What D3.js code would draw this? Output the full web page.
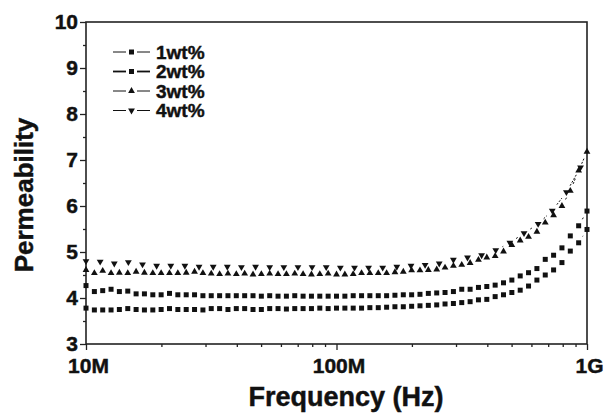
<!DOCTYPE html>
<html>
<head>
<meta charset="utf-8">
<script src="https://cdn.jsdelivr.net/npm/d3@7"></script>
<style>
    body { margin: 0; background: #fff; }
    text { font-family: "Liberation Sans", Arial, sans-serif; font-weight: bold; fill: #111; stroke: #111; stroke-width: 0.45px; }
</style>
</head>
<body>
<div id="chart"></div>
<script>
(function () {
    'use strict';

    // frequency sweeps, MHz
    var freqA = [10, 10.8, 11.66, 12.59, 13.59, 14.68, 15.85, 17.11, 18.48, 19.95,
        21.54, 23.26, 25.12, 27.12, 29.29, 31.62, 34.15, 36.87, 39.81, 42.99,
        46.42, 50.12, 54.12, 58.43, 63.1, 68.13, 73.56, 79.43, 85.77, 92.61,
        100, 108, 116.6, 125.9, 135.9, 146.8, 158.5, 171.1, 184.8, 199.5,
        215.4, 232.6, 251.2, 271.2, 292.9, 316.2, 341.5, 368.7, 398.1, 429.9,
        464.2, 501.2, 541.2, 584.3, 631, 681.3, 735.6, 794.3, 857.7, 926.1, 1000];

    var freqB = [10, 11.39, 12.97, 14.76, 16.81, 19.14, 21.8, 24.82, 28.27, 32.19,
        36.65, 41.73, 47.52, 54.11, 61.62, 70.16, 79.89, 90.97, 103.6, 118,
        134.3, 152.9, 174.1, 198.3, 225.8, 257.1, 292.8, 333.4, 379.6, 432.3,
        492.2, 560.5, 638.2, 726.7, 827.5, 942.3];

    var wt1 = [3.78, 3.74, 3.74, 3.74, 3.75, 3.77, 3.75, 3.74, 3.74, 3.75,
        3.77, 3.75, 3.75, 3.75, 3.74, 3.77, 3.77, 3.75, 3.77, 3.77,
        3.75, 3.75, 3.77, 3.77, 3.76, 3.77, 3.77, 3.77, 3.78, 3.77,
        3.78, 3.78, 3.78, 3.78, 3.79, 3.79, 3.80, 3.81, 3.81, 3.82,
        3.83, 3.84, 3.85, 3.87, 3.88, 3.90, 3.92, 3.96, 3.97, 4.03,
        4.07, 4.12, 4.17, 4.26, 4.39, 4.50, 4.61, 4.77, 5.02, 5.20, 5.49];

    var wt2 = [4.27, 4.14, 4.16, 4.19, 4.14, 4.15, 4.09, 4.09, 4.07, 4.07,
        4.10, 4.07, 4.07, 4.07, 4.05, 4.05, 4.05, 4.05, 4.05, 4.05,
        4.05, 4.04, 4.05, 4.04, 4.04, 4.05, 4.04, 4.04, 4.04, 4.04,
        4.04, 4.04, 4.05, 4.05, 4.05, 4.05, 4.05, 4.06, 4.07, 4.07,
        4.08, 4.10, 4.11, 4.12, 4.14, 4.19, 4.19, 4.23, 4.25, 4.28,
        4.33, 4.39, 4.48, 4.55, 4.64, 4.84, 4.93, 5.09, 5.35, 5.57, 5.89];

    var wt3 = [4.61, 4.54, 4.59, 4.54, 4.55, 4.54, 4.57, 4.55, 4.54, 4.54,
        4.54, 4.54, 4.55, 4.57, 4.54, 4.53, 4.52, 4.53, 4.52, 4.53,
        4.51, 4.52, 4.53, 4.52, 4.52, 4.53, 4.52, 4.51, 4.52, 4.53,
        4.51, 4.51, 4.52, 4.54, 4.54, 4.54, 4.54, 4.56, 4.57, 4.60,
        4.60, 4.61, 4.62, 4.66, 4.70, 4.72, 4.76, 4.83, 4.88, 4.91,
        5.01, 5.15, 5.25, 5.33, 5.44, 5.64, 5.80, 6.00, 6.33, 6.77, 7.18];

    var wt4 = [4.80, 4.79, 4.75, 4.78, 4.73, 4.70, 4.70, 4.70, 4.68, 4.68,
        4.68, 4.67, 4.68, 4.67, 4.67, 4.67, 4.67, 4.67, 4.66, 4.66,
        4.66, 4.66, 4.68, 4.70, 4.72, 4.75, 4.83, 4.88, 4.93, 5.04,
        5.20, 5.41, 5.61, 5.90, 6.30, 6.84];

    var seriesNames = ['1wt%', '2wt%', '3wt%', '4wt%'];
    var yTicks = [3, 4, 5, 6, 7, 8, 9, 10];
    var xTicks = [10, 100, 1000];
    var xTickLabels = ['10M', '100M', '1G'];

    var width = 605;
    var height = 414;
    var margin = { left: 86, right: 18, top: 22, bottom: 70 };
    var plotW = width - margin.left - margin.right;
    var plotH = height - margin.top - margin.bottom;

    var series = [
        { name: seriesNames[0], freq: freqA, vals: wt1, sym: d3.symbolSquare, size: 25, rot: 0, lw: 1 },
        { name: seriesNames[1], freq: freqA, vals: wt2, sym: d3.symbolSquare, size: 25, rot: 0, lw: 1.8 },
        { name: seriesNames[2], freq: freqA, vals: wt3, sym: d3.symbolTriangle, size: 20, rot: 0, lw: 1 },
        { name: seriesNames[3], freq: freqB, vals: wt4, sym: d3.symbolTriangle, size: 20, rot: 180, lw: 1 }
    ];

    var x = d3.scaleLog().domain([10, 1000]).range([0, plotW]);
    var y = d3.scaleLinear().domain([3, 10]).range([plotH, 0]);

    var svg = d3.select('#chart')
        .append('svg')
        .attr('width', width)
        .attr('height', height);

    var g = svg.append('g')
        .attr('transform', convertToTranslateString(margin.left, margin.top));

    drawAxes(g);
    drawSeries(g);
    drawLegend(g);
    drawTitles(svg);

    function convertToTranslateString(tx, ty) {
        return 'translate(' + tx + ',' + ty + ')';
    }

    function drawAxes(group) {
        var minorX = [];
        [10, 100].forEach(function (dec) {
            for (var m = 2; m <= 9; m++) { minorX.push(dec * m); }
        });
        var minorY = yTicks.slice(0, -1).map(function (v) { return v + 0.5; });

        var xAxis = group.append('g')
            .attr('transform', convertToTranslateString(0, plotH))
            .call(d3.axisBottom(x).tickValues(xTicks).tickSize(6).tickPadding(6)
                .tickFormat(function (d, i) { return xTickLabels[i]; }));
        xAxis.selectAll('text').attr('font-size', 21).attr('dx', 2).attr('dy', '0.83em');

        group.append('g')
            .attr('transform', convertToTranslateString(0, plotH))
            .call(d3.axisBottom(x).tickValues(minorX).tickSize(3).tickFormat(''));

        var yAxis = group.append('g')
            .call(d3.axisLeft(y).tickValues(yTicks).tickSize(6).tickPadding(2)
                .tickFormat(d3.format('d')));
        yAxis.selectAll('text').attr('font-size', 21).attr('dy', '0.3em');

        group.append('g')
            .call(d3.axisLeft(y).tickValues(minorY).tickSize(3).tickFormat(''));

        group.selectAll('.domain').remove();
        group.selectAll('.tick line').attr('stroke', '#222').attr('stroke-width', 1.3);

        group.append('rect')
            .attr('width', plotW)
            .attr('height', plotH)
            .attr('fill', 'none')
            .attr('stroke', '#222')
            .attr('stroke-width', 1.6);
    }

    function drawSeries(group) {
        var gap = 7.5;
        series.forEach(function (s) {
            var pts = s.vals.map(function (v, i) { return [x(s.freq[i]), y(v)]; });
            var segs = [];
            for (var i = 1; i < pts.length; i++) {
                var dx = pts[i][0] - pts[i - 1][0];
                var dy = pts[i][1] - pts[i - 1][1];
                var d = Math.sqrt(dx * dx + dy * dy);
                if (d > 2 * gap) {
                    segs.push([pts[i - 1][0] + dx / d * gap, pts[i - 1][1] + dy / d * gap,
                        pts[i][0] - dx / d * gap, pts[i][1] - dy / d * gap]);
                }
            }
            group.append('g').selectAll('line')
                .data(segs)
                .enter().append('line')
                .attr('x1', function (d) { return d[0]; })
                .attr('y1', function (d) { return d[1]; })
                .attr('x2', function (d) { return d[2]; })
                .attr('y2', function (d) { return d[3]; })
                .attr('stroke', '#111')
                .attr('stroke-width', 1)
                .attr('stroke-dasharray', '2,1.5');

            group.append('g').selectAll('path')
                .data(pts)
                .enter().append('path')
                .attr('d', d3.symbol().type(s.sym).size(s.size))
                .attr('transform', function (d) {
                    return convertToTranslateString(d[0], d[1]) + ' rotate(' + s.rot + ')';
                })
                .attr('fill', '#111');
        });
    }

    function drawLegend(group) {
        var leg = group.append('g').attr('transform', convertToTranslateString(27, 30));
        var rows = leg.selectAll('g')
            .data(series)
            .enter().append('g')
            .attr('transform', function (d, i) { return convertToTranslateString(0, i * 19.5); });

        rows.append('line').attr('x1', 0).attr('x2', 13).attr('y1', 0).attr('y2', 0)
            .attr('stroke', '#111').attr('stroke-width', function (d) { return d.lw; });
        rows.append('line').attr('x1', 24).attr('x2', 37).attr('y1', 0).attr('y2', 0)
            .attr('stroke', '#111').attr('stroke-width', function (d) { return d.lw; });
        rows.append('path')
            .attr('d', function (d) { return d3.symbol().type(d.sym).size(d.size)(); })
            .attr('transform', function (d) { return convertToTranslateString(18.5, 0) + ' rotate(' + d.rot + ')'; })
            .attr('fill', '#111');
        rows.append('text')
            .attr('x', 43)
            .attr('y', 0)
            .attr('dy', '0.36em')
            .attr('font-size', 19)
            .text(function (d) { return d.name; });
    }

    function drawTitles(root) {
        root.append('text')
            .attr('transform', convertToTranslateString(33, 195) + ' rotate(-90)')
            .attr('text-anchor', 'middle')
            .attr('font-size', 26)
            .text('Permeability');

        root.append('text')
            .attr('x', 346)
            .attr('y', 406)
            .attr('text-anchor', 'middle')
            .attr('font-size', 27)
            .text('Frequency (Hz)');
    }

}());
</script>
</body>
</html>
